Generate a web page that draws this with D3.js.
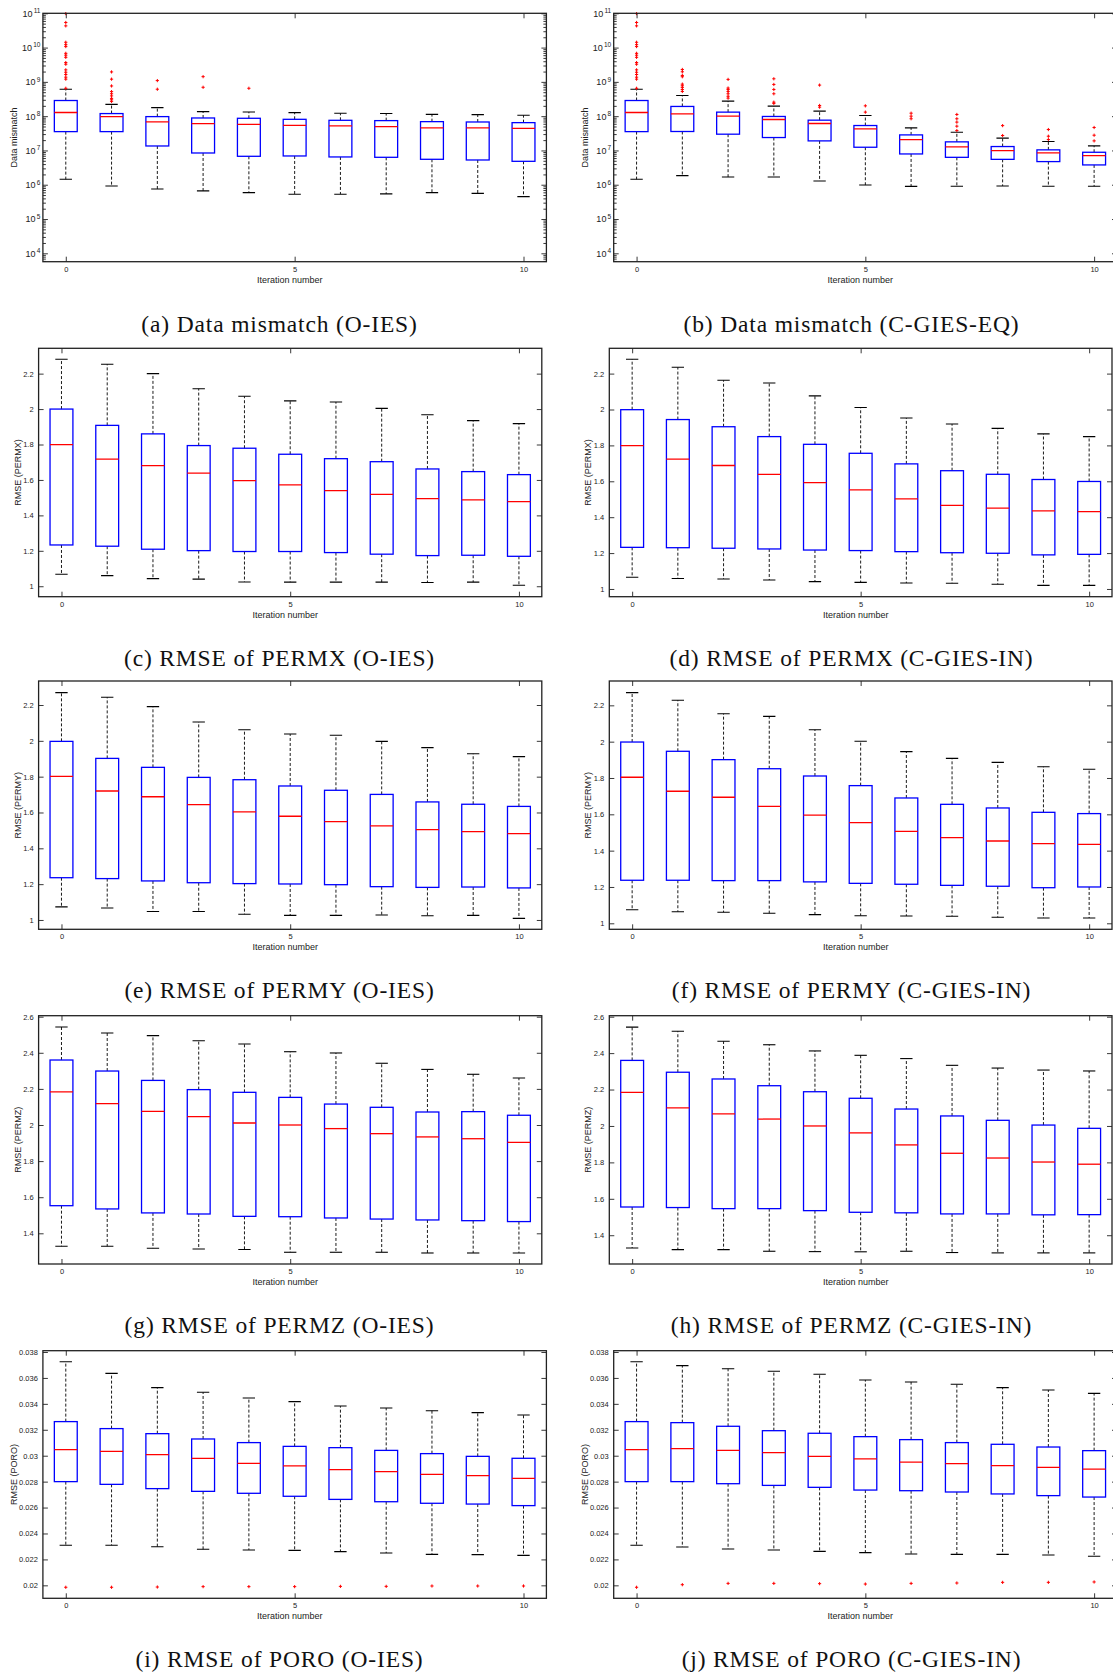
<!DOCTYPE html>
<html><head><meta charset="utf-8">
<script src="https://cdn.jsdelivr.net/npm/d3@7"></script>
<style>body{margin:0;background:#fff;} svg{display:block;}</style>
</head><body>
<script>
// ---------- categories / ticks ----------
const iterations = [0,1,2,3,4,5,6,7,8,9,10];
const xTickVals = [0,5,10];
const yTicksLog = [1e4,1e5,1e6,1e7,1e8,1e9,1e10,1e11];
const yTicksPerm = [1,1.2,1.4,1.6,1.8,2,2.2];
const yTicksPermz = [1.4,1.6,1.8,2,2.2,2.4,2.6];
const yTicksPoro = [0.02,0.022,0.024,0.026,0.028,0.03,0.032,0.034,0.036,0.038];

// ---------- (a) Data mismatch (O-IES) ----------
const aHi  = [6.1e8,2.2e8,1.77e8,1.36e8,1.32e8,1.27e8,1.21e8,1.19e8,1.13e8,1.11e8,1.06e8];
const aQ3  = [2.86e8,1.19e8,9.7e7,8.85e7,8.67e7,8.09e7,7.57e7,7.41e7,6.92e7,6.76e7,6.47e7];
const aMed = [1.28e8,9.7e7,6.78e7,6.05e7,5.79e7,5.41e7,5.18e7,4.94e7,4.53e7,4.53e7,4.43e7];
const aQ1  = [3.54e7,3.54e7,1.35e7,8.43e6,6.75e6,6.9e6,6.46e6,6.31e6,5.52e6,5.27e6,4.82e6];
const aLo  = [1.44e6,9.2e5,7.5e5,6.6e5,5.9e5,5.3e5,5.3e5,5.4e5,5.9e5,5.6e5,4.5e5];
const aOut = [[9.8e10,5.4e10,4.3e10,1.43e10,1.22e10,1.07e10,6.8e9,6.0e9,5.2e9,3.66e9,3.27e9,2.24e9,1.91e9,1.64e9,1.37e9,1.2e9,6.5e8],
              [1.95e9,1.2e9,7.6e8,5.2e8,4.5e8,3.9e8,3.3e8,3.0e8,2.7e8],[1.09e9,6.1e8],[1.42e9,6.95e8],[6.5e8],[],[],[],[],[],[]];

// ---------- (b) Data mismatch (C-GIES-EQ) ----------
const bHi  = [6.1e8,4.0e8,2.74e8,1.96e8,1.4e8,1.05e8,4.56e7,3.4e7,2.28e7,1.82e7,1.36e7];
const bQ3  = [2.86e8,1.92e8,1.31e8,9.8e7,7.64e7,5.33e7,2.84e7,1.78e7,1.3e7,1.04e7,8.85e6];
const bMed = [1.28e8,1.17e8,1.0e8,8.0e7,6.1e7,4.26e7,2.08e7,1.27e7,9.9e6,8.5e6,7.08e6];
const bQ1  = [3.54e7,3.57e7,2.98e7,2.38e7,1.9e7,1.24e7,7.9e6,6.3e6,5.5e6,4.73e6,3.78e6];
const bLo  = [1.44e6,1.84e6,1.68e6,1.68e6,1.29e6,9.8e5,8.97e5,9.0e5,9.2e5,9.0e5,9.0e5];
const bOut = [[9.8e10,5.4e10,4.3e10,1.43e10,1.22e10,1.07e10,6.8e9,6.0e9,5.2e9,3.66e9,3.27e9,2.24e9,1.91e9,1.64e9,1.37e9,1.2e9,6.5e8],
              [2.3e9,1.97e9,1.54e9,1.41e9,8.6e8,7.7e8,6.9e8,6.0e8,5.25e8],
              [1.18e9,6.6e8,6.0e8,5.25e8,4.5e8,3.8e8,3.35e8],
              [1.23e9,8.4e8,6.0e8,4.5e8,2.56e8,2.35e8],
              [8.05e8,2.05e8,1.83e8],[2.0e8,1.31e8],[1.22e8,1.0e8,8.4e7],
              [1.12e8,8.4e7,6.7e7,5.1e7,3.8e7],[5.3e7,2.72e7],[4.07e7,2.6e7,2.08e7],[4.67e7,2.78e7,1.9e7]];

// ---------- (c) RMSE PERMX (O-IES) ----------
const cHi  = [2.281,2.253,2.2,2.115,2.072,2.046,2.040,2.004,1.968,1.935,1.918];
const cQ3  = [2.0,1.908,1.86,1.794,1.779,1.745,1.720,1.703,1.662,1.647,1.630];
const cMed = [1.799,1.717,1.681,1.638,1.596,1.572,1.540,1.519,1.495,1.487,1.478];
const cQ1  = [1.233,1.226,1.209,1.201,1.196,1.196,1.190,1.181,1.173,1.175,1.169];
const cLo  = [1.068,1.060,1.043,1.040,1.024,1.023,1.023,1.023,1.021,1.023,1.006];

// ---------- (d) RMSE PERMX (C-GIES-IN) ----------
const dHi  = [2.280,2.235,2.163,2.148,2.076,2.011,1.953,1.919,1.895,1.864,1.849];
const dQ3  = [1.999,1.944,1.904,1.849,1.806,1.756,1.697,1.659,1.639,1.610,1.599];
const dMed = [1.799,1.723,1.688,1.639,1.593,1.552,1.502,1.466,1.450,1.435,1.431];
const dQ1  = [1.232,1.230,1.227,1.223,1.217,1.214,1.208,1.202,1.199,1.190,1.193];
const dLo  = [1.065,1.058,1.056,1.050,1.041,1.037,1.033,1.032,1.026,1.020,1.020];

// ---------- (e) RMSE PERMY (O-IES) ----------
const eHi  = [2.269,2.243,2.191,2.105,2.062,2.038,2.031,1.997,1.962,1.928,1.912];
const eQ3  = [1.997,1.902,1.852,1.796,1.783,1.748,1.724,1.701,1.659,1.646,1.634];
const eMed = [1.802,1.720,1.688,1.644,1.603,1.579,1.549,1.525,1.504,1.493,1.482];
const eQ1  = [1.236,1.231,1.218,1.208,1.203,1.201,1.197,1.186,1.182,1.184,1.179];
const eLo  = [1.073,1.067,1.047,1.047,1.032,1.026,1.026,1.028,1.024,1.026,1.009];

// ---------- (f) RMSE PERMY (C-GIES-IN) ----------
const fHi  = [2.270,2.228,2.154,2.139,2.066,2.002,1.945,1.908,1.886,1.862,1.848];
const fQ3  = [1.998,1.947,1.901,1.851,1.811,1.758,1.690,1.655,1.635,1.611,1.604];
const fMed = [1.804,1.727,1.694,1.644,1.596,1.554,1.506,1.472,1.453,1.439,1.435];
const fQ1  = [1.237,1.237,1.235,1.235,1.228,1.220,1.215,1.209,1.204,1.196,1.200];
const fLo  = [1.075,1.064,1.061,1.055,1.048,1.042,1.040,1.039,1.033,1.029,1.029];

// ---------- (g) RMSE PERMZ (O-IES) ----------
const gHi  = [2.543,2.510,2.495,2.467,2.449,2.406,2.399,2.342,2.308,2.281,2.260];
const gQ3  = [2.360,2.299,2.247,2.196,2.181,2.153,2.116,2.098,2.072,2.074,2.054];
const gMed = [2.183,2.118,2.076,2.046,2.011,2.000,1.980,1.952,1.934,1.924,1.904];
const gQ1  = [1.553,1.535,1.513,1.507,1.494,1.492,1.485,1.479,1.474,1.470,1.465];
const gLo  = [1.328,1.328,1.317,1.313,1.310,1.295,1.295,1.295,1.291,1.291,1.291];

// ---------- (h) RMSE PERMZ (C-GIES-IN) ----------
const hHi  = [2.543,2.520,2.465,2.446,2.412,2.388,2.370,2.333,2.318,2.307,2.302];
const hQ3  = [2.360,2.295,2.258,2.221,2.188,2.152,2.093,2.055,2.031,2.005,1.987];
const hMed = [2.185,2.099,2.066,2.038,2.000,1.962,1.896,1.850,1.824,1.802,1.790];
const hQ1  = [1.555,1.552,1.546,1.546,1.535,1.526,1.523,1.517,1.517,1.512,1.513];
const hLo  = [1.330,1.321,1.321,1.312,1.310,1.309,1.312,1.305,1.303,1.303,1.303];

// ---------- (i) RMSE PORO (O-IES) ----------
const iHi  = [0.03725,0.03635,0.03525,0.03489,0.03445,0.03417,0.03383,0.03368,0.03347,0.03332,0.03314];
const iQ3  = [0.03263,0.03209,0.03170,0.03129,0.03101,0.03072,0.03062,0.03041,0.03016,0.02995,0.02980];
const iMed = [0.03047,0.03034,0.03008,0.02980,0.02941,0.02921,0.02892,0.02877,0.02856,0.02846,0.02825];
const iQ1  = [0.02800,0.02779,0.02746,0.02725,0.02710,0.02687,0.02663,0.02645,0.02633,0.02627,0.02615];
const iLo  = [0.02309,0.02309,0.02298,0.02278,0.02273,0.02270,0.02260,0.02249,0.02239,0.02237,0.02231];
const iOut = [[0.01985],[0.01985],[0.01987],[0.0199],[0.0199],[0.0199],[0.01992],[0.01992],[0.01995],[0.01995],[0.01995]];

// ---------- (j) RMSE PORO (C-GIES-IN) ----------
const jHi  = [0.03725,0.03695,0.03671,0.03651,0.03628,0.03584,0.03569,0.03551,0.03525,0.03507,0.03481];
const jQ3  = [0.03263,0.03255,0.03227,0.03193,0.03173,0.03147,0.03124,0.03101,0.03088,0.03067,0.03039];
const jMed = [0.03047,0.03054,0.03041,0.03023,0.02995,0.02975,0.02951,0.02939,0.02923,0.02910,0.02897];
const jQ1  = [0.02800,0.02800,0.02784,0.02771,0.02756,0.02735,0.02730,0.02720,0.02705,0.02692,0.02681];
const jLo  = [0.02309,0.02296,0.02280,0.02273,0.02262,0.02252,0.02242,0.02239,0.02239,0.02234,0.02224];
const jOut = [[0.01985],[0.02005],[0.02015],[0.02015],[0.02013],[0.0201],[0.02015],[0.02018],[0.02023],[0.02023],[0.02026]];

const none = iterations.map(() => []);

// ---------- layout ----------
const W = 1113, H = 1674;
const rowsY = [[13.3,261.7],[348.3,596.7],[681,929.3],[1015.7,1264],[1350.7,1598.3]];
const colsWide = [[42.9,546.4],[613.7,1117]];
const colsNarrow = [[38.6,541.8],[609.3,1112]];
const captionY = [323.5,657.5,990.3,1325.3,1658.5];
const captionX = [279.5,851.5];

const panels = [
  {row:0,col:0,log:true,dom:[5.69e3,1e11],ticks:yTicksLog,ylab:'Data mismatch',cap:'(a) Data mismatch (O-IES)',hi:aHi,q3:aQ3,med:aMed,q1:aQ1,lo:aLo,out:aOut},
  {row:0,col:1,log:true,dom:[5.69e3,1e11],ticks:yTicksLog,ylab:'Data mismatch',cap:'(b) Data mismatch (C-GIES-EQ)',hi:bHi,q3:bQ3,med:bMed,q1:bQ1,lo:bLo,out:bOut},
  {row:1,col:0,dom:[0.941,2.343],ticks:yTicksPerm,ylab:'RMSE (PERMX)',cap:'(c) RMSE of PERMX (O-IES)',hi:cHi,q3:cQ3,med:cMed,q1:cQ1,lo:cLo,out:none},
  {row:1,col:1,dom:[0.957,2.341],ticks:yTicksPerm,ylab:'RMSE (PERMX)',cap:'(d) RMSE of PERMX (C-GIES-IN)',hi:dHi,q3:dQ3,med:dMed,q1:dQ1,lo:dLo,out:none},
  {row:2,col:0,dom:[0.948,2.334],ticks:yTicksPerm,ylab:'RMSE (PERMY)',cap:'(e) RMSE of PERMY (O-IES)',hi:eHi,q3:eQ3,med:eMed,q1:eQ1,lo:eLo,out:none},
  {row:2,col:1,dom:[0.967,2.334],ticks:yTicksPerm,ylab:'RMSE (PERMY)',cap:'(f) RMSE of PERMY (C-GIES-IN)',hi:fHi,q3:fQ3,med:fMed,q1:fQ1,lo:fLo,out:none},
  {row:3,col:0,dom:[1.23,2.6055],ticks:yTicksPermz,ylab:'RMSE (PERMZ)',cap:'(g) RMSE of PERMZ (O-IES)',hi:gHi,q3:gQ3,med:gMed,q1:gQ1,lo:gLo,out:none},
  {row:3,col:1,dom:[1.242,2.6055],ticks:yTicksPermz,ylab:'RMSE (PERMZ)',cap:'(h) RMSE of PERMZ (C-GIES-IN)',hi:hHi,q3:hQ3,med:hMed,q1:hQ1,lo:hLo,out:none},
  {row:4,col:0,dom:[0.019,0.0381],ticks:yTicksPoro,ylab:'RMSE (PORO)',cap:'(i) RMSE of PORO (O-IES)',hi:iHi,q3:iQ3,med:iMed,q1:iQ1,lo:iLo,out:iOut},
  {row:4,col:1,dom:[0.019,0.0381],ticks:yTicksPoro,ylab:'RMSE (PORO)',cap:'(j) RMSE of PORO (C-GIES-IN)',hi:jHi,q3:jQ3,med:jMed,q1:jQ1,lo:jLo,out:jOut},
];

const svg = d3.select('body').append('svg').attr('width',W).attr('height',H)
  .style('background','#fff');
svg.append('rect').attr('width',W).attr('height',H).attr('fill','#fff');

const axisColor = '#222';
const sans = "'Liberation Sans', Arial, Helvetica, sans-serif";
const serif = "'Liberation Serif', 'Times New Roman', serif";

panels.forEach(p => {
  const wide = (p.row === 0 || p.row === 4);
  const [x0,x1] = (wide ? colsWide : colsNarrow)[p.col];
  const [y0,y1] = rowsY[p.row];
  const x = d3.scaleLinear().domain([-0.5,10.5]).range([x0,x1]);
  const y = (p.log ? d3.scaleLog() : d3.scaleLinear()).domain(p.dom).range([y1,y0]);
  const g = svg.append('g');
  const step = x(1) - x(0);
  const bw = step*0.5, cw = step*0.27;

  const cid = 'clip' + p.row + '_' + p.col;
  svg.append('clipPath').attr('id',cid).append('rect')
    .attr('x',x0).attr('y',y0-2).attr('width',x1-x0).attr('height',y1-y0+2);
  const plot = g.append('g').attr('clip-path',`url(#${cid})`);

  iterations.forEach((it,i) => {
    const cx = x(it);
    const bg = plot.append('g');
    bg.append('line').attr('x1',cx).attr('x2',cx).attr('y1',y(p.q3[i])).attr('y2',y(p.hi[i]))
      .attr('stroke','#000').attr('stroke-width',0.9).attr('stroke-dasharray','3,2');
    bg.append('line').attr('x1',cx).attr('x2',cx).attr('y1',y(p.q1[i])).attr('y2',y(p.lo[i]))
      .attr('stroke','#000').attr('stroke-width',0.9).attr('stroke-dasharray','3,2');
    [p.hi[i], p.lo[i]].forEach(v => {
      bg.append('line').attr('x1',cx-cw/2).attr('x2',cx+cw/2).attr('y1',y(v)).attr('y2',y(v))
        .attr('stroke','#000').attr('stroke-width',1.1);
    });
    bg.append('rect').attr('x',cx-bw/2).attr('y',y(p.q3[i])).attr('width',bw)
      .attr('height',y(p.q1[i])-y(p.q3[i])).attr('fill','none')
      .attr('stroke','#0000ff').attr('stroke-width',1.3);
    bg.append('line').attr('x1',cx-bw/2).attr('x2',cx+bw/2).attr('y1',y(p.med[i])).attr('y2',y(p.med[i]))
      .attr('stroke','#ff0000').attr('stroke-width',1.3);
    p.out[i].forEach(v => {
      const yy = y(v), s = 1.6;
      bg.append('path').attr('d',`M${cx-s},${yy}H${cx+s}M${cx},${yy-s}V${yy+s}`)
        .attr('stroke','#ff0000').attr('stroke-width',1);
    });
  });

  const fmt = d3.format('~g');
  const xb = g.append('g').attr('transform',`translate(0,${y1})`)
    .call(d3.axisBottom(x).tickValues(xTickVals).tickSizeInner(-5).tickSizeOuter(0).tickPadding(4.5));
  g.append('g').attr('transform',`translate(0,${y0})`)
    .call(d3.axisTop(x).tickValues(xTickVals).tickSizeInner(-5).tickSizeOuter(0).tickFormat(''));
  const yl = g.append('g').attr('transform',`translate(${x0},0)`)
    .call(d3.axisLeft(y).tickValues(p.ticks).tickSizeInner(-5).tickSizeOuter(0)
      .tickPadding(5).tickFormat(p.log ? (() => '10') : fmt));
  g.append('g').attr('transform',`translate(${x1},0)`)
    .call(d3.axisRight(y).tickValues(p.ticks).tickSizeInner(-5).tickSizeOuter(0).tickFormat(''));
  if (p.log) {
    const minor = [];
    for (let e = 3; e <= 10; e++) for (let m = 2; m <= 9; m++) {
      const v = m * Math.pow(10,e);
      if (v >= p.dom[0] && v <= p.dom[1]) minor.push(v);
    }
    g.append('g').attr('transform',`translate(${x0},0)`)
      .call(d3.axisLeft(y).tickValues(minor).tickSizeInner(-3).tickSizeOuter(0).tickFormat(''));
    g.append('g').attr('transform',`translate(${x1},0)`)
      .call(d3.axisRight(y).tickValues(minor).tickSizeInner(-3).tickSizeOuter(0).tickFormat(''));
    yl.selectAll('.tick text').each(function(d){
      const t = d3.select(this);
      t.attr('font-size',9);
      t.append('tspan').attr('dy','-0.55em').attr('dx','1.2').attr('font-size',6.5)
        .text(Math.round(Math.log10(d)));
    });
    yl.selectAll('.tick text').attr('x',-2.5).attr('text-anchor','end');
  }
  g.selectAll('.domain').remove();
  g.selectAll('.tick line').attr('stroke',axisColor).attr('stroke-width',0.9);
  g.selectAll('.tick text').attr('fill',axisColor).attr('font-family',sans);
  xb.selectAll('.tick text').attr('font-size',7.5);
  if (!p.log) yl.selectAll('.tick text').attr('font-size',7.5);

  g.append('rect').attr('x',x0).attr('y',y0).attr('width',x1-x0).attr('height',y1-y0)
    .attr('fill','none').attr('stroke',axisColor).attr('stroke-width',1.3);

  g.append('text').attr('x',(x0+x1)/2-5).attr('y',y1+21).attr('text-anchor','middle')
    .attr('font-family',sans).attr('font-size',9).attr('fill',axisColor).text('Iteration number');
  const ylx = x0 - (wide ? 29 : 21);
  g.append('text').attr('transform',`translate(${ylx},${(y0+y1)/2}) rotate(-90)`)
    .attr('text-anchor','middle').attr('dominant-baseline','central')
    .attr('font-family',sans).attr('font-size',9).attr('fill',axisColor).text(p.ylab);

  svg.append('text').attr('x',captionX[p.col]).attr('y',captionY[p.row])
    .attr('text-anchor','middle').attr('dominant-baseline','central')
    .attr('font-family',serif).attr('font-size',23.5).attr('letter-spacing','0.85px')
    .attr('fill','#111').text(p.cap);
});
</script>
</body></html>
